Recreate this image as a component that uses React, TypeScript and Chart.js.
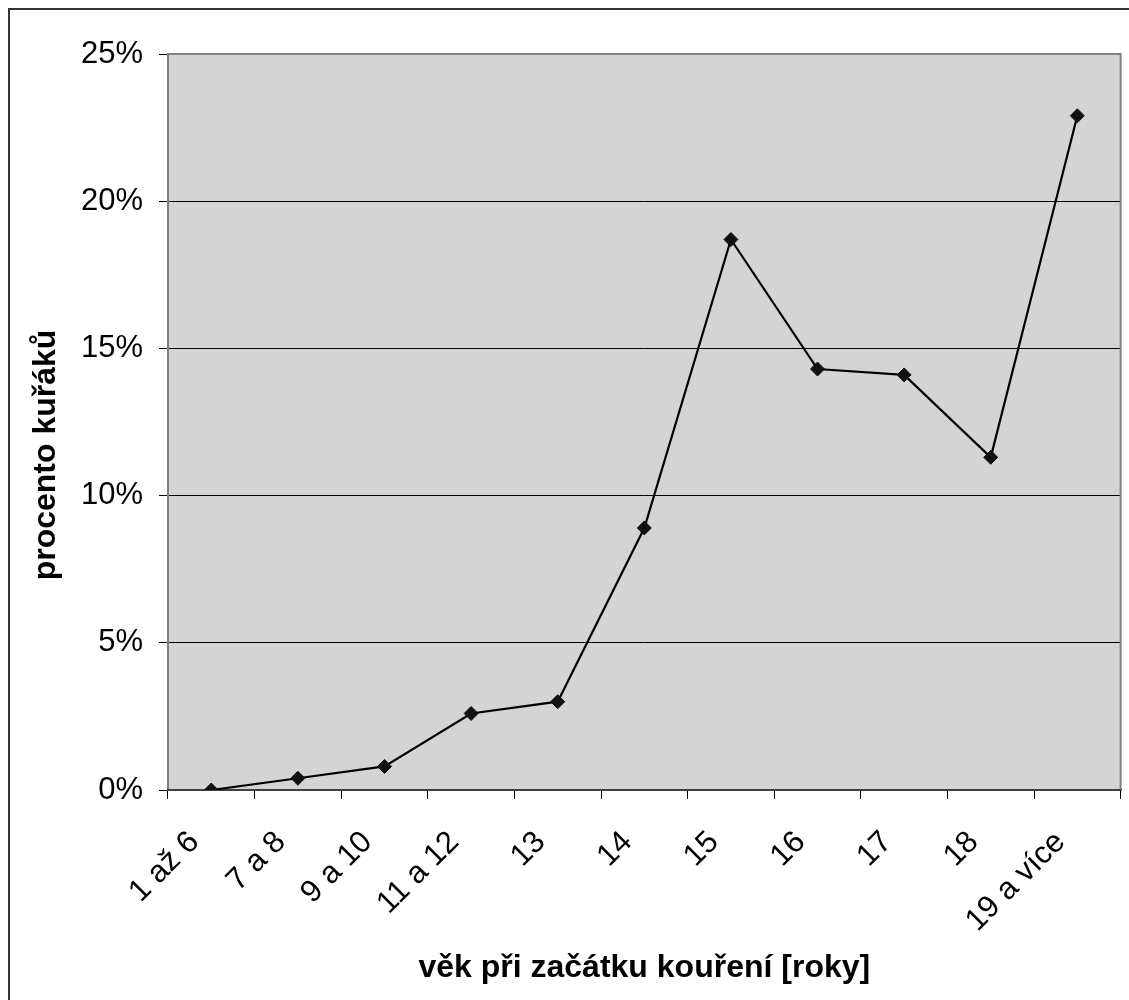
import React, { useEffect, useRef } from "react";
import { Chart, registerables } from "chart.js";

Chart.register(...registerables);

const categories = ["1 až 6", "7 a 8", "9 a 10", "11 a 12", "13", "14", "15", "16", "17", "18", "19 a více"];
const smokerPercent = [0, 0.4, 0.8, 2.6, 3.0, 8.9, 18.7, 14.3, 14.1, 11.3, 22.9];
const yTicks = [0, 5, 10, 15, 20, 25];
const xTitle = "věk při začátku kouření [roky]";
const yTitle = "procento kuřáků";

const FONT = "'Liberation Sans', Arial, sans-serif";

const plotAreaPlugin = {
  id: "plotArea",
  beforeDraw(chart: any) {
    const { ctx, chartArea } = chart;
    ctx.save();
    ctx.fillStyle = "#d4d4d4";
    ctx.fillRect(chartArea.left, chartArea.top, chartArea.right - chartArea.left, chartArea.bottom - chartArea.top);
    ctx.restore();
  },
  beforeDatasetsDraw(chart: any) {
    const { ctx, chartArea } = chart;
    ctx.save();
    ctx.strokeStyle = "#808080";
    ctx.lineWidth = 2;
    ctx.strokeRect(chartArea.left, chartArea.top, chartArea.right - chartArea.left, chartArea.bottom - chartArea.top);
    ctx.strokeStyle = "#404040";
    ctx.beginPath();
    ctx.moveTo(chartArea.left - 1, chartArea.bottom);
    ctx.lineTo(chartArea.right + 1, chartArea.bottom);
    ctx.stroke();
    ctx.restore();
  },
  afterDraw(chart: any) {
    const { ctx } = chart;
    ctx.save();
    ctx.translate(46, 455);
    ctx.rotate(-Math.PI / 2);
    ctx.fillStyle = "#000";
    ctx.font = "bold 32px " + FONT;
    ctx.textAlign = "center";
    ctx.textBaseline = "middle";
    ctx.fillText(yTitle, 0, 0);
    ctx.restore();
  },
};

export default function App() {
  const ref = useRef<HTMLCanvasElement | null>(null);
  useEffect(() => {
    if (!ref.current) return;
    const chart = new Chart(ref.current, {
      type: "line",
      data: {
        labels: categories,
        datasets: [
          {
            data: smokerPercent,
            borderColor: "#000",
            borderWidth: 2.2,
            backgroundColor: "#111",
            pointBackgroundColor: "#111",
            pointBorderColor: "#111",
            pointStyle: "rectRot",
            pointRadius: 7,
            pointBorderWidth: 1,
            tension: 0,
          },
        ],
      },
      options: {
        animation: false,
        responsive: true,
        maintainAspectRatio: false,
        layout: { padding: { top: 54, right: 7, bottom: 0, left: 0 } },
        plugins: { legend: { display: false }, tooltip: { enabled: false } },
        scales: {
          x: {
            type: "category",
            offset: true,
            border: { display: false },
            grid: {
              display: true,
              offset: true,
              drawOnChartArea: false,
              drawTicks: true,
              tickLength: 9,
              tickColor: "#000",
              lineWidth: 1,
            },
            ticks: {
              autoSkip: false,
              minRotation: 45,
              maxRotation: 45,
              color: "#000",
              padding: 25,
              labelOffset: -17,
              font: { family: FONT, size: 31 },
            },
            title: {
              display: true,
              text: xTitle,
              color: "#000",
              font: { family: FONT, size: 32, weight: "bold" },
              padding: { top: 0, bottom: 13 },
            },
            afterFit(scale: any) {
              scale.height = 210;
            },
          },
          y: {
            min: 0,
            max: 25,
            border: { display: false },
            afterBuildTicks(scale: any) {
              scale.ticks = yTicks.map((v) => ({ value: v }));
            },
            grid: {
              color: (c: any) => (c.tick && c.tick.value === 25 ? "#808080" : "#000"),
              tickColor: "#000",
              tickLength: 9,
              lineWidth: 1,
            },
            ticks: {
              color: "#000",
              padding: 16,
              font: { family: FONT, size: 31 },
              callback: (v: any) => v + "%",
            },
            title: { display: false },
            afterFit(scale: any) {
              scale.width = 168;
            },
          },
        },
      },
      plugins: [plotAreaPlugin],
    });
    return () => chart.destroy();
  }, []);

  return (
    <>
      <div
        style={{
          position: "fixed",
          left: 8,
          top: 8,
          width: 1300,
          height: 1200,
          borderLeft: "2px solid #333",
          borderTop: "2px solid #333",
          boxSizing: "border-box",
        }}
      />
      <div style={{ position: "fixed", left: 0, top: 0, width: 1129, height: 1000 }}>
        <canvas ref={ref} />
      </div>
    </>
  );
}
